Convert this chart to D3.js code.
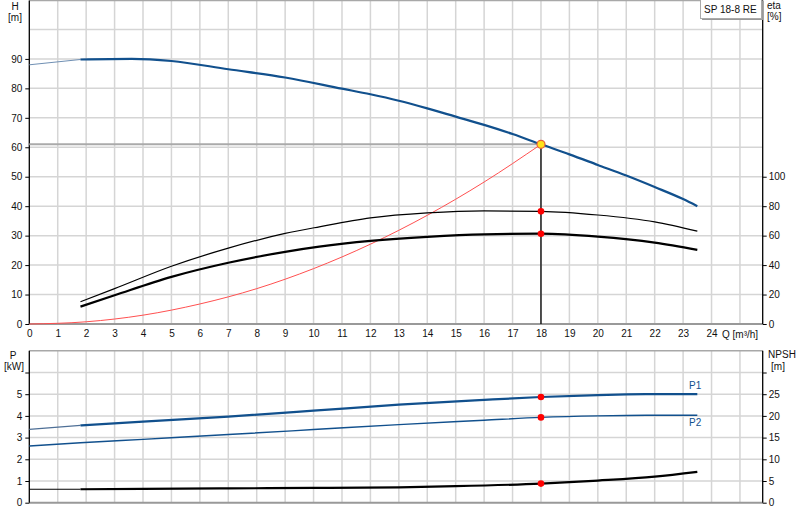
<!DOCTYPE html>
<html>
<head>
<meta charset="utf-8">
<script src="https://cdn.jsdelivr.net/npm/d3@7"></script>
<style>
  body { margin: 0; background: #fff; }
  svg { display: block; font-family: "Liberation Sans", Arial, sans-serif; }
</style>
</head>
<body>
<div id="main"></div>
<script>
"use strict";

// pump curve H(Q)
const hQ   = [0, 1.8, 3.6, 5, 7, 9, 11, 12, 13, 14, 15, 16, 17, 18, 19, 20, 21, 22, 23, 23.5];
const hVal = [88, 89.8, 90, 89.3, 86.5, 83.7, 79.9, 78, 75.8, 73.2, 70.4, 67.6, 64.5, 61, 57.6, 54, 50.4, 46.5, 42.4, 40];

// efficiency curves
const etaQ     = [1.8, 3, 5, 7, 9, 10.2, 12, 14, 16, 18, 20, 22, 23.5];
const etaPump  = [15.1, 24, 39.2, 51.5, 61.5, 66, 72, 75.4, 76.8, 76.5, 74, 69.3, 63];
const etaTotal = [11.8, 19.5, 32, 41.6, 49, 52.5, 56.4, 59.2, 60.9, 61.3, 59.3, 55.2, 50.3];

// system curve
const sysQ = [0, 2, 4, 6, 8, 10, 12, 14, 16, 18];
const sysH = [0, 0.75, 3.0, 6.8, 12.0, 18.8, 27.1, 36.9, 48.2, 61.0];

// power curves
const pQ  = [0, 1.8, 4, 7, 10, 13, 16, 18, 20, 21, 22, 23.5];
const p1  = [3.38, 3.56, 3.74, 3.97, 4.24, 4.52, 4.74, 4.87, 4.96, 4.99, 5.0, 5.0];
const p2  = [2.61, 2.76, 2.92, 3.14, 3.37, 3.6, 3.8, 3.93, 4.0, 4.02, 4.03, 4.03];

// NPSH
const npshQ = [0, 1.8, 4, 7, 10, 13, 15, 18, 20, 22, 23.5];
const npsh  = [3.1, 3.1, 3.2, 3.3, 3.4, 3.55, 3.8, 4.4, 5.1, 6.0, 7.1];

const dutyQ = 18, dutyH = 61;

const hTicks   = [0, 10, 20, 30, 40, 50, 60, 70, 80, 90];
const etaTicks = [0, 20, 40, 60, 80, 100];
const qTicks   = d3.range(0, 25);
const pTicks   = [0, 1, 2, 3, 4, 5, 6];
const nTicks   = [0, 5, 10, 15, 20, 25, 30];

const W = 800, H = 520;
const BLUE = "#11508d", GRID = "#d5d5d5", FS = 10;

const svg = d3.select("#main").append("svg").attr("width", W).attr("height", H);

const x    = d3.scaleLinear().domain([0, 25.8]).range([29.3, 762.7]);
const yH   = d3.scaleLinear().domain([0, 110]).range([324, 0]);
const yEta = d3.scaleLinear().domain([0, 220]).range([324, 0]);
const yP   = d3.scaleLinear().domain([0, 7]).range([502.7, 350.8]);
const yN   = d3.scaleLinear().domain([0, 35]).range([502.7, 350.8]);

function zip(a, b) { return a.map((v, i) => [v, b[i]]); }
function line(ys) {
  return d3.line().x(d => x(d[0])).y(d => ys(d[1])).curve(d3.curveMonotoneX);
}

// ---- grids
function grid(g, ys, vals, y0, y1) {
  g.selectAll(".vg").data(d3.range(1, 26)).join("line")
    .attr("x1", d => x(d)).attr("x2", d => x(d)).attr("y1", y0).attr("y2", y1)
    .attr("stroke", GRID).attr("stroke-width", 1.5);
  g.selectAll(".hg").data(vals).join("line")
    .attr("x1", x(0)).attr("x2", x.range()[1]).attr("y1", d => ys(d)).attr("y2", d => ys(d))
    .attr("stroke", GRID).attr("stroke-width", 1.5);
}
grid(svg.append("g"), yH, [10, 20, 30, 40, 50, 60, 70, 80, 90, 100], 0, 324);
grid(svg.append("g"), yP, [1, 2, 3, 4, 5, 6], 350.8, 502.7);

// frames
function frame(y0, y1) {
  svg.append("line").attr("x1", x(0)).attr("x2", x.range()[1]).attr("y1", y0).attr("y2", y0)
    .attr("stroke", "#a8a8a8").attr("stroke-width", 1.5);
  svg.append("line").attr("x1", x(0)).attr("x2", x.range()[1]).attr("y1", y1).attr("y2", y1)
    .attr("stroke", "#999").attr("stroke-width", 2);
  svg.append("line").attr("x1", x(0)).attr("x2", x(0)).attr("y1", y0).attr("y2", y1)
    .attr("stroke", "#000").attr("stroke-width", 1.3);
  svg.append("line").attr("x1", x.range()[1]).attr("x2", x.range()[1]).attr("y1", y0).attr("y2", y1)
    .attr("stroke", "#000").attr("stroke-width", 1.3);
}
frame(0.5, 324);
frame(350.8, 502.7);

// ---- axes
function styleAxis(g) {
  g.select(".domain").remove();
  g.selectAll("line").attr("stroke", "#000");
  g.selectAll("text").attr("font-size", FS).attr("fill", "#111").attr("font-family", "Liberation Sans, Arial");
}
function leftAxis(ys, vals, ticksOnly) {
  svg.append("g").attr("transform", `translate(${x(0)},0)`)
    .call(d3.axisLeft(ys).tickValues(vals).tickSize(4).tickPadding(3)
      .tickFormat(d => ticksOnly.includes(d) ? "" : d))
    .call(styleAxis);
}
function rightAxis(ys, vals, ticksOnly) {
  svg.append("g").attr("transform", `translate(${x.range()[1]},0)`)
    .call(d3.axisRight(ys).tickValues(vals).tickSize(4).tickPadding(2)
      .tickFormat(d => ticksOnly.includes(d) ? "" : d))
    .call(styleAxis);
}
leftAxis(yH, hTicks, []);
rightAxis(yEta, etaTicks, []);
leftAxis(yP, pTicks, [6]);
rightAxis(yN, nTicks, [30]);

svg.append("g").attr("transform", "translate(0,324)")
  .call(d3.axisBottom(x).tickValues(qTicks).tickSize(0).tickPadding(6))
  .call(styleAxis);

// axis titles
function label(t, xx, yy, anchor, color) {
  svg.append("text").attr("x", xx).attr("y", yy).attr("text-anchor", anchor || "middle")
    .attr("font-size", FS).attr("fill", color || "#111").text(t);
}
label("H", 15, 10);
label("[m]", 15, 21);
label("eta", 767, 9, "start");
label("[%]", 767, 20, "start");
label("Q [m³/h]", 722, 338, "start");
label("P", 13, 359);
label("[kW]", 14, 370);
label("NPSH", 782, 358);
label("[m]", 778, 370);

// legend box
svg.append("rect").attr("x", 702).attr("y", 1).attr("width", 61).attr("height", 19).attr("fill", "#999");
svg.append("rect").attr("x", 700.5).attr("y", -1).attr("width", 61).attr("height", 19.5)
  .attr("fill", "#fff").attr("stroke", "#aaa");
label("SP 18-8 RE", 704, 12.5, "start");

// ---- top plot curves
const gUpper = svg.append("g");
gUpper.append("path").datum(zip(sysQ, sysH)).attr("d", line(yH))
  .attr("fill", "none").attr("stroke", "#ff5050").attr("stroke-width", 1);

gUpper.append("line").attr("x1", x(0)).attr("x2", x(dutyQ)).attr("y1", yH(dutyH)).attr("y2", yH(dutyH))
  .attr("stroke", "#aaa").attr("stroke-width", 2);
gUpper.append("line").attr("x1", x(dutyQ)).attr("x2", x(dutyQ)).attr("y1", yH(0)).attr("y2", yH(dutyH))
  .attr("stroke", "#000").attr("stroke-width", 1.3);

const hPts = zip(hQ, hVal);
gUpper.append("path").datum(hPts.slice(0, 2)).attr("d", line(yH))
  .attr("fill", "none").attr("stroke", "#6f8fb3").attr("stroke-width", 1);
gUpper.append("path").datum(hPts.slice(1)).attr("d", line(yH))
  .attr("fill", "none").attr("stroke", BLUE).attr("stroke-width", 2.2);

gUpper.append("path").datum(zip(etaQ, etaPump)).attr("d", line(yEta))
  .attr("fill", "none").attr("stroke", "#000").attr("stroke-width", 1.2);
gUpper.append("path").datum(zip(etaQ, etaTotal)).attr("d", line(yEta))
  .attr("fill", "none").attr("stroke", "#000").attr("stroke-width", 2.2);

const iDuty = etaQ.indexOf(dutyQ);
gUpper.selectAll(".ed").data([etaPump[iDuty], etaTotal[iDuty]]).join("circle")
  .attr("cx", x(dutyQ)).attr("cy", d => yEta(d)).attr("r", 3.3).attr("fill", "#ff0000");
gUpper.append("circle").attr("cx", x(dutyQ)).attr("cy", yH(dutyH)).attr("r", 4)
  .attr("fill", "#ffe21a").attr("stroke", "#e8603a").attr("stroke-width", 1.2);

// ---- bottom plot curves
const gLower = svg.append("g");
const p1Pts = zip(pQ, p1), p2Pts = zip(pQ, p2), nPts = zip(npshQ, npsh);
gLower.append("path").datum(p1Pts.slice(0, 2)).attr("d", line(yP))
  .attr("fill", "none").attr("stroke", "#4e6f96").attr("stroke-width", 1.2);
gLower.append("path").datum(p1Pts.slice(1)).attr("d", line(yP))
  .attr("fill", "none").attr("stroke", BLUE).attr("stroke-width", 2.2);
gLower.append("path").datum(p2Pts).attr("d", line(yP))
  .attr("fill", "none").attr("stroke", BLUE).attr("stroke-width", 1.4);
gLower.append("path").datum(nPts.slice(0, 2)).attr("d", line(yN))
  .attr("fill", "none").attr("stroke", "#000").attr("stroke-width", 1.1);
gLower.append("path").datum(nPts.slice(1)).attr("d", line(yN))
  .attr("fill", "none").attr("stroke", "#000").attr("stroke-width", 2.2);

const iP = pQ.indexOf(dutyQ), iN = npshQ.indexOf(dutyQ);
gLower.selectAll(".pd").data([yP(p1[iP]), yP(p2[iP]), yN(npsh[iN])]).join("circle")
  .attr("cx", x(dutyQ)).attr("cy", d => d).attr("r", 3.3).attr("fill", "#ff0000");

label("P1", 689, 389, "start", BLUE);
label("P2", 689, 426, "start", BLUE);
</script>
</body>
</html>
